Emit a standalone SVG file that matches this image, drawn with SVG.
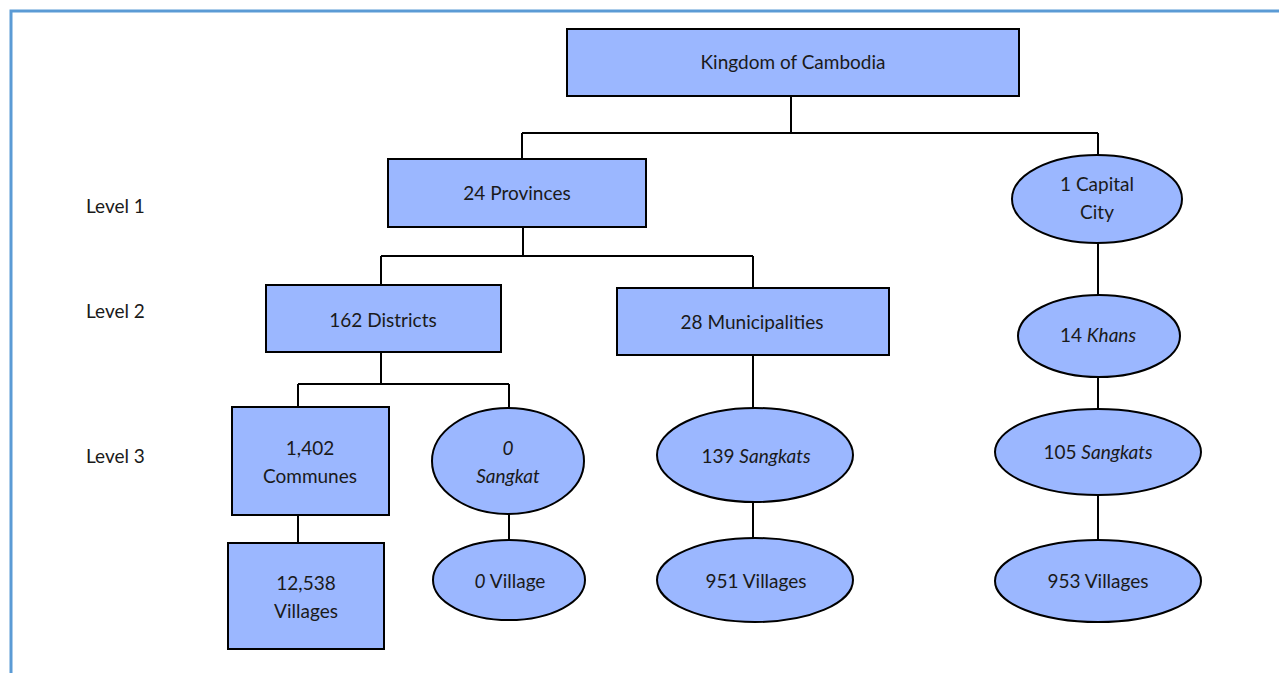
<svg xmlns="http://www.w3.org/2000/svg" width="1279" height="673" viewBox="0 0 1279 673">
<style>
.n{fill:#9BB7FF;stroke:#000;stroke-width:2}
.c{fill:none;stroke:#000;stroke-width:2}
text{font-family:Lato,"Liberation Sans",sans-serif;font-size:19px;fill:#1a1a1a;text-anchor:middle}
.l{text-anchor:start}
.i{font-style:italic}
</style>
<rect width="1279" height="673" fill="#fff"/>
<path d="M11,673 V11 H1279" fill="none" stroke="#5B9BD5" stroke-width="3"/>
<g id="connectors">
<path class="c" d="M791,96 V133 M522,133 H1098 M522,133 V159 M1098,133 V155"/>
<path class="c" d="M523,227 V256 M381,256 H753 M381,256 V285 M753,256 V288"/>
<path class="c" d="M381,352 V384 M298,384 H509 M298,384 V407 M509,384 V408"/>
<path class="c" d="M298,515 V543 M509,514 V539"/>
<path class="c" d="M753,355 V408 M753,502 V538"/>
<path class="c" d="M1098,243 V295 M1098,377 V409 M1098,495 V540"/>
</g>
<g id="level-labels">
<text class="l" x="86" y="213">Level 1</text>
<text class="l" x="86" y="318">Level 2</text>
<text class="l" x="86" y="463">Level 3</text>
</g>
<g id="kingdom"><rect class="n" x="567" y="29" width="452" height="67"/><text x="793" y="69">Kingdom of Cambodia</text></g>
<g id="provinces"><rect class="n" x="388" y="159" width="258" height="68"/><text x="517" y="200">24 Provinces</text></g>
<g id="capital"><ellipse class="n" cx="1097" cy="199" rx="85" ry="44"/><text x="1097" y="191">1 Capital</text><text x="1097" y="219">City</text></g>
<g id="districts"><rect class="n" x="266" y="285" width="235" height="67"/><text x="383" y="327">162 Districts</text></g>
<g id="municipalities"><rect class="n" x="617" y="288" width="272" height="67"/><text x="752" y="329">28 Municipalities</text></g>
<g id="khans"><ellipse class="n" cx="1099" cy="336" rx="81" ry="41"/><text x="1098" y="342">14 <tspan class="i">Khans</tspan></text></g>
<g id="communes"><rect class="n" x="232" y="407" width="157" height="108"/><text x="310" y="455">1,402</text><text x="310" y="483">Communes</text></g>
<g id="sangkat0"><ellipse class="n" cx="508" cy="461" rx="76" ry="53"/><text class="i" x="508" y="455">0</text><text class="i" x="508" y="483">Sangkat</text></g>
<g id="sangkats139"><ellipse class="n" cx="755" cy="455" rx="98" ry="47"/><text x="756" y="463">139 <tspan class="i">Sangkats</tspan></text></g>
<g id="sangkats105"><ellipse class="n" cx="1098" cy="452" rx="103" ry="43"/><text x="1098" y="459">105 <tspan class="i">Sangkats</tspan></text></g>
<g id="villages12538"><rect class="n" x="228" y="543" width="156" height="106"/><text x="306" y="590">12,538</text><text x="306" y="618">Villages</text></g>
<g id="village0"><ellipse class="n" cx="509" cy="580" rx="76" ry="40"/><text x="510" y="588"><tspan class="i">0</tspan> Village</text></g>
<g id="villages951"><ellipse class="n" cx="755" cy="580" rx="98" ry="42"/><text x="756" y="588">951 Villages</text></g>
<g id="villages953"><ellipse class="n" cx="1098" cy="581" rx="103" ry="41"/><text x="1098" y="588">953 Villages</text></g>
</svg>
